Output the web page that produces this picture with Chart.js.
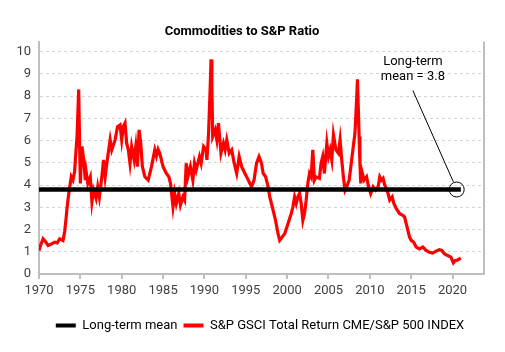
<!DOCTYPE html>
<html>
<head>
<meta charset="utf-8">
<script src="https://cdn.jsdelivr.net/npm/chart.js@4/dist/chart.umd.min.js"></script>
<style>
html,body{margin:0;padding:0;background:#fff;}
#wrap{width:505px;height:352px;}
</style>
</head>
<body>
<div id="wrap"><canvas id="c" width="505" height="352"></canvas></div>
<script>
const titleText = "Commodities to S&P Ratio";
const seriesNames = ["Long-term mean", "S&P GSCI Total Return CME/S&P 500 INDEX"];
const meanValue = 3.8;
const meanYears = [1970, 2021];
const annotationLines = ["Long-term", "mean = 3.8"];
const annotationTextAt = [2015.2, 9.56, 8.88];   // year, value line1, value line2
const annotationLineFrom = [2015.2, 8.25];
const annotationLineTo = [2020.1, 4.14];
const circleAt = [2020.5, 3.8];
const xTickYears = [1970, 1975, 1980, 1985, 1990, 1995, 2000, 2005, 2010, 2015, 2020];
const yTickValues = [0,1,2,3,4,5,6,7,8,9,10];

const years = [
1970.0,1970.2,1970.5,1970.8,1971.1,1971.5,1971.9,1972.2,1972.5,1972.9,
1973.1,1973.3,1973.4,1973.6,1973.9,1974.1,1974.3,1974.6,1974.8,1974.9,
1975.0,1975.1,1975.2,1975.4,1975.6,1975.7,1975.9,1976.2,1976.4,1976.6,
1976.9,1977.1,1977.3,1977.6,1977.8,1978.0,1978.2,1978.6,1978.8,1979.2,
1979.5,1979.8,1980.0,1980.2,1980.4,1980.6,1980.8,1981.0,1981.2,1981.5,
1981.7,1981.9,1982.1,1982.3,1982.5,1982.8,1983.2,1983.6,1984.0,1984.2,
1984.4,1984.6,1985.0,1985.4,1985.7,1985.9,1986.2,1986.4,1986.6,1986.9,
1987.1,1987.4,1987.6,1987.8,1988.0,1988.3,1988.6,1988.8,1989.0,1989.4,
1989.6,1989.9,1990.2,1990.3,1990.5,1990.7,1990.8,1990.9,1991.0,1991.3,
1991.5,1991.7,1992.0,1992.3,1992.5,1992.7,1993.0,1993.3,1993.6,1993.9,
1994.2,1994.5,1994.9,1995.2,1995.5,1995.7,1996.0,1996.3,1996.6,1996.9,
1997.1,1997.4,1997.7,1997.9,1998.3,1998.6,1998.9,1999.1,1999.4,1999.7,
2000.1,2000.5,2000.7,2000.9,2001.1,2001.3,2001.5,2001.7,2001.9,2002.1,
2002.3,2002.5,2002.7,2002.9,2003.1,2003.3,2003.5,2003.9,2004.1,2004.3,
2004.5,2004.8,2005.0,2005.2,2005.4,2005.6,2005.9,2006.2,2006.4,2006.6,
2006.8,2007.0,2007.2,2007.5,2007.8,2008.0,2008.2,2008.4,2008.5,2008.6,
2008.7,2008.8,2008.9,2009.0,2009.3,2009.6,2009.8,2010.1,2010.4,2010.7,
2011.0,2011.2,2011.4,2011.6,2011.8,2012.0,2012.2,2012.4,2012.7,2012.9,
2013.2,2013.6,2014.0,2014.2,2014.5,2014.8,2015.0,2015.3,2015.6,2016.0,
2016.4,2016.8,2017.2,2017.6,2018.0,2018.4,2018.7,2019.0,2019.4,2019.8,
2020.1,2020.3,2020.6,2021.0
];
const ratio = [
1.05,1.30,1.58,1.45,1.28,1.35,1.43,1.40,1.58,1.50,
1.90,2.60,3.01,3.62,4.37,4.22,4.60,6.20,8.30,6.00,
4.07,5.13,5.73,5.13,4.22,4.60,4.07,4.37,3.24,3.77,
3.40,3.92,3.47,4.37,5.13,4.37,4.98,6.03,5.58,6.03,
6.63,6.71,6.03,6.63,6.78,5.88,5.58,4.98,5.73,5.13,
5.73,4.83,6.48,5.88,4.83,4.37,4.22,4.83,5.58,5.30,
5.60,5.43,4.83,4.52,4.37,4.07,3.02,3.62,3.17,3.62,
3.10,3.47,3.32,4.98,4.37,4.83,4.22,4.98,4.67,5.28,
4.98,5.73,5.58,5.13,6.33,8.44,9.65,8.44,6.18,6.48,
6.03,6.78,5.43,5.88,5.58,6.03,5.43,5.58,4.98,4.52,
5.28,4.83,4.52,4.30,4.07,3.92,4.22,4.98,5.28,4.98,
4.52,4.37,3.92,3.47,2.87,2.41,1.81,1.51,1.66,1.81,
2.26,2.72,3.02,3.47,3.17,3.47,3.62,3.17,2.41,2.72,
3.32,4.07,4.52,4.37,5.58,4.22,4.37,4.30,4.98,5.28,
4.52,5.88,5.28,5.58,5.13,6.26,5.58,5.43,6.03,5.13,
4.37,3.77,3.92,4.22,5.13,5.73,6.33,7.84,8.75,7.50,
6.18,5.00,4.07,4.67,4.22,4.37,4.00,3.62,3.92,3.77,
3.92,4.37,4.22,4.30,4.00,3.85,3.62,3.32,3.47,3.17,
2.94,2.71,2.64,2.56,2.11,1.66,1.51,1.43,1.21,1.13,
1.21,1.06,0.98,0.94,1.03,1.09,1.06,0.91,0.83,0.76,
0.50,0.60,0.63,0.71
];

const FONT = "Roboto, 'Noto Sans', 'DejaVu Sans', sans-serif";
const TEXT = "#404040";
const AXIS = "#bfbfbf";
const LEGEND_SHIFT = 18;

const ratioPts = years.map((y,i)=>({x:y,y:ratio[i]}));
const meanPts = meanYears.map(y=>({x:y,y:meanValue}));

const extras = {
  id:'extras',
  afterLayout(chart){
    if (chart.legend){ chart.legend.left += LEGEND_SHIFT; chart.legend.right += LEGEND_SHIFT; }
  },
  afterDatasetsDraw(chart){
    const {ctx, chartArea, scales:{x,y}} = chart;
    ctx.save();
    ctx.strokeStyle = AXIS; ctx.lineWidth = 2;
    ctx.beginPath(); ctx.moveTo(chartArea.right, chartArea.top); ctx.lineTo(chartArea.right, chartArea.bottom); ctx.stroke();
    const cx = x.getPixelForValue(circleAt[0]), cy = y.getPixelForValue(circleAt[1]);
    ctx.strokeStyle = '#000'; ctx.lineWidth = 1;
    ctx.beginPath(); ctx.arc(cx, cy, 7.5, 0, Math.PI*2); ctx.stroke();
    ctx.beginPath();
    ctx.moveTo(x.getPixelForValue(annotationLineFrom[0]), y.getPixelForValue(annotationLineFrom[1]));
    ctx.lineTo(x.getPixelForValue(annotationLineTo[0]), y.getPixelForValue(annotationLineTo[1]));
    ctx.stroke();
    ctx.fillStyle = '#000';
    ctx.font = "13px " + FONT;
    ctx.textAlign = 'center'; ctx.textBaseline = 'middle';
    const tx = x.getPixelForValue(annotationTextAt[0]);
    ctx.fillText(annotationLines[0], tx, y.getPixelForValue(annotationTextAt[1]));
    ctx.fillText(annotationLines[1], tx, y.getPixelForValue(annotationTextAt[2]));
    ctx.restore();
  }
};

new Chart(document.getElementById('c'), {
  type:'line',
  data:{
    datasets:[
      {label:seriesNames[0], data:meanPts, borderColor:'#000', backgroundColor:'#000', borderWidth:4.5, pointRadius:0, borderCapStyle:'butt'},
      {label:seriesNames[1], data:ratioPts, borderColor:'#ff0000', backgroundColor:'#ff0000', borderWidth:3.2, pointRadius:0, tension:0}
    ]
  },
  options:{
    responsive:false,
    animation:false,
    devicePixelRatio:1,
    layout:{padding:{left:0,right:21,top:0,bottom:10}},
    plugins:{
      title:{display:true, text:titleText, color:'#000', font:{family:FONT, size:13, weight:'bold'}, padding:{top:24,bottom:2}},
      legend:{position:'bottom', labels:{color:'#000', font:{family:FONT,size:13}, boxWidth:20, boxHeight:4, padding:6,
        generateLabels(chart){
          const items = Chart.defaults.plugins.legend.labels.generateLabels(chart);
          items.forEach(it=>{ it.lineWidth = 0; it.strokeStyle = it.fillStyle; });
          return items;
        }}},
      tooltip:{enabled:false}
    },
    scales:{
      x:{type:'linear', min:1970, max:2023.8,
        afterBuildTicks(s){ s.ticks = xTickYears.map(v=>({value:v})); },
        afterFit(s){ s.height = 39; },
        ticks:{color:TEXT, font:{family:FONT,size:13}, maxRotation:0, padding:4, callback:v=>String(v)},
        grid:{display:true, drawOnChartArea:false, drawTicks:true, tickLength:5, color:AXIS, lineWidth:2},
        border:{display:true, color:AXIS, width:2}
      },
      y:{min:0, max:10.45,
        afterBuildTicks(s){ s.ticks = yTickValues.map(v=>({value:v})); },
        afterFit(s){ s.width = 39; },
        ticks:{color:TEXT, font:{family:FONT,size:13}, padding:8},
        grid:{color:'#d4d4d4', lineWidth:1, drawTicks:false, tickLength:0},
        border:{display:true, color:AXIS, width:2, dash:[3,3]}
      }
    }
  },
  plugins:[extras]
});
</script>
</body>
</html>
